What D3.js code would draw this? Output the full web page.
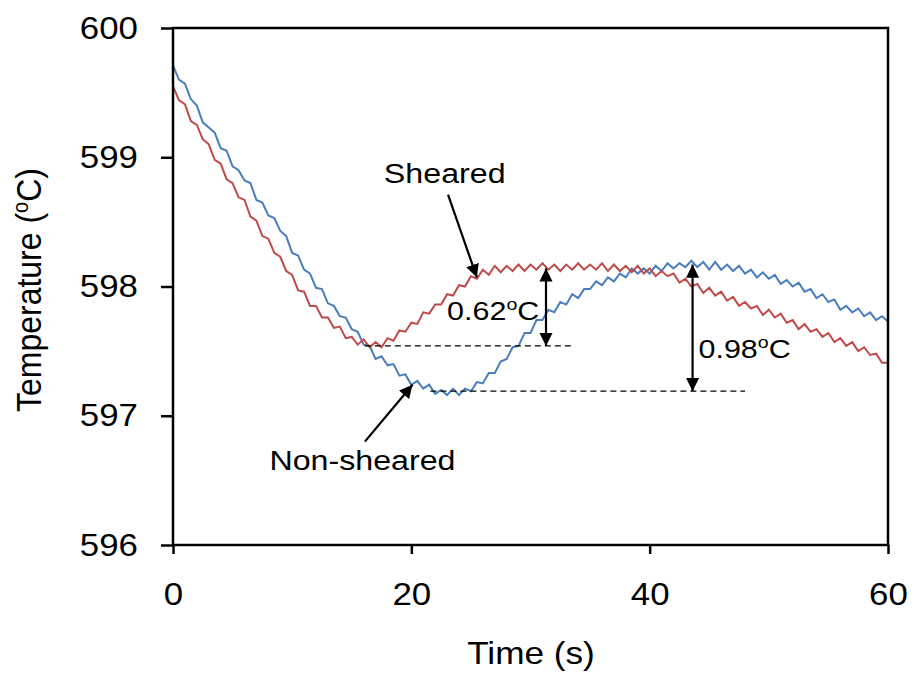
<!DOCTYPE html>
<html>
<head>
<meta charset="utf-8">
<script src="https://cdn.jsdelivr.net/npm/d3@7"></script>
<style>
  body { margin: 0; background: #fff; }
  svg text { font-family: "Liberation Sans", Arial, sans-serif; fill: #000; }
</style>
</head>
<body>
<svg id="chart" width="914" height="675"></svg>
<script>
// time axis, s (every 0.5 s)
let time = d3.range(121).map(i => i * 0.5);

// non-sheared (blue), every 0.5 s
let nonSheared = [
599.71,599.60,599.57,599.45,599.40,599.27,599.23,599.19,599.07,599.05,
598.93,598.90,598.82,598.80,598.67,598.65,598.55,598.53,598.43,598.39,
598.26,598.24,598.13,598.10,597.99,597.98,597.87,597.85,597.77,597.76,
597.67,597.65,597.55,597.54,597.44,597.46,597.39,597.40,597.31,597.32,
597.24,597.27,597.21,597.24,597.17,597.20,597.16,597.21,597.16,597.21,
597.19,597.26,597.25,597.33,597.33,597.42,597.44,597.53,597.54,597.64,
597.64,597.74,597.74,597.82,597.80,597.88,597.86,597.94,597.91,597.98,
597.98,598.04,598.01,598.07,598.04,598.10,598.07,598.14,598.10,598.14,
598.10,598.16,598.12,598.18,598.14,598.18,598.15,598.20,598.15,598.19,
598.13,598.19,598.13,598.17,598.12,598.16,598.10,598.13,598.07,598.11,
598.06,598.09,598.02,598.05,598.00,598.03,597.96,597.98,597.91,597.94,
597.88,597.90,597.82,597.85,597.80,597.83,597.77,597.80,597.74,597.77,
597.73];

// sheared (red)
let sheared = [
599.55,599.44,599.41,599.28,599.25,599.14,599.10,598.98,598.95,598.83,
598.80,598.69,598.67,598.54,598.51,598.39,598.37,598.26,598.23,598.12,
598.09,597.97,597.96,597.85,597.85,597.76,597.76,597.68,597.69,597.60,
597.61,597.55,597.59,597.53,597.57,597.53,597.60,597.58,597.66,597.65,
597.72,597.71,597.80,597.79,597.86,597.86,597.94,597.93,598.01,598.00,
598.08,598.06,598.13,598.09,598.16,598.11,598.16,598.12,598.17,598.12,
598.17,598.13,598.18,598.13,598.17,598.12,598.17,598.13,598.18,598.13,
598.17,598.13,598.18,598.12,598.17,598.12,598.16,598.11,598.16,598.10,
598.14,598.08,598.12,598.08,598.10,598.03,598.06,598.00,598.02,597.95,
597.99,597.93,597.96,597.89,597.92,597.85,597.88,597.83,597.85,597.78,
597.82,597.76,597.79,597.72,597.74,597.67,597.71,597.65,597.67,597.61,
597.64,597.57,597.60,597.54,597.57,597.50,597.53,597.47,597.48,597.41,
597.41];

let xTicks = [0, 20, 40, 60];
let yTicks = [596, 597, 598, 599, 600];

let svg = d3.select("#chart");
let marginX = 173, marginY = 28;
let width = 715, height = 517;

let scaleX = d3.scaleLinear().domain([0, 60]).range([0, width]);
let scaleY = d3.scaleLinear().domain([596, 600]).range([height, 0]);

svg.append("defs").append("marker")
  .attr("id", "head")
  .attr("viewBox", "0 0 10 10")
  .attr("refX", 10).attr("refY", 5)
  .attr("markerWidth", 6).attr("markerHeight", 6)
  .attr("markerUnits", "strokeWidth")
  .attr("orient", "auto-start-reverse")
  .append("path").attr("d", "M0,0 L10,5 L0,10 z").attr("fill", "#000");

let g = svg.append("g").attr("transform", `translate(${marginX}, ${marginY})`);

// lines
let line = d3.line()
  .x((d, i) => scaleX(time[i]))
  .y(d => scaleY(d));

g.append("path").datum(nonSheared)
  .attr("d", line).attr("fill", "none")
  .attr("stroke", "#4a7ebb").attr("stroke-width", 2);
g.append("path").datum(sheared)
  .attr("d", line).attr("fill", "none")
  .attr("stroke", "#be4b48").attr("stroke-width", 2);

// axes
let axisX = d3.axisBottom(scaleX).tickValues(xTicks).tickSize(9).tickPadding(28).tickFormat(d3.format("d"));
let axisY = d3.axisLeft(scaleY).tickValues(yTicks).tickSize(12).tickPadding(10).tickFormat(d3.format("d"));

let gx = g.append("g").attr("transform", `translate(0, ${height})`).call(axisX);
let gy = g.append("g").call(axisY);
[gx, gy].forEach(a => {
  a.select(".domain").remove();
  a.selectAll("line").attr("stroke", "#000").attr("stroke-width", 2.5);
  a.selectAll("text").attr("font-size", 32).style("font-family", "Liberation Sans, Arial");
});
gx.selectAll(".tick text").attr("transform", "scale(1.09,1)");
gy.selectAll(".tick text")
  .attr("transform", "translate(-35,0) scale(1.09,1)")
  .attr("x", 0).attr("text-anchor", "end");

g.append("rect").attr("x", 0).attr("y", 0).attr("width", width).attr("height", height)
  .attr("fill", "none").attr("stroke", "#000").attr("stroke-width", 2.5);

// axis titles
svg.append("text").attr("transform", `translate(531, 664) scale(1.1,1)`)
  .attr("text-anchor", "middle").attr("font-size", 32).text("Time (s)");
let yl = svg.append("text").attr("transform", `translate(41, 290) rotate(-90) scale(1,1.1)`)
  .attr("text-anchor", "middle").attr("font-size", 32);
yl.append("tspan").text("Temperature (");
yl.append("tspan").attr("font-size", 20).attr("dy", -12).text("o");
yl.append("tspan").attr("dy", 12).text("C)");

// annotations
function label(t, T, txt, size) {
  return g.append("text")
    .attr("transform", `translate(${scaleX(t)}, ${scaleY(T)}) scale(1.15,1)`)
    .attr("font-size", size).text(txt);
}
label(22.8, 598.80, "Sheared", 28).attr("text-anchor", "middle");
label(15.9, 596.58, "Non-sheared", 28).attr("text-anchor", "middle");

function degLabel(t, T, num) {
  let tx = g.append("text")
    .attr("transform", `translate(${scaleX(t)}, ${scaleY(T)}) scale(1.15,1)`)
    .attr("font-size", 26.5);
  tx.append("tspan").text(num);
  tx.append("tspan").attr("font-size", 17).attr("dy", -10).text("o");
  tx.append("tspan").attr("dy", 10).text("C");
}
degLabel(23.0, 597.74, "0.62");
degLabel(44.1, 597.45, "0.98");

function arrow(t1, T1, t2, T2, both) {
  let a = g.append("line")
    .attr("x1", scaleX(t1)).attr("y1", scaleY(T1))
    .attr("x2", scaleX(t2)).attr("y2", scaleY(T2))
    .attr("stroke", "#000").attr("stroke-width", 2.2)
    .attr("marker-end", "url(#head)");
  if (both) a.attr("marker-start", "url(#head)");
}
arrow(23.08, 598.71, 25.5, 598.07, false);
arrow(16.1, 596.80, 20.1, 597.24, false);
arrow(31.3, 598.14, 31.3, 597.54, true);
arrow(43.6, 598.17, 43.6, 597.19, true);

function dashed(t1, t2, T) {
  g.append("line")
    .attr("x1", scaleX(t1)).attr("x2", scaleX(t2))
    .attr("y1", scaleY(T)).attr("y2", scaleY(T))
    .attr("stroke", "#000").attr("stroke-width", 1.3)
    .attr("stroke-dasharray", "6,4");
}
dashed(16.1, 33.7, 597.54);
dashed(21.6, 48.0, 597.19);
</script>
</body>
</html>
